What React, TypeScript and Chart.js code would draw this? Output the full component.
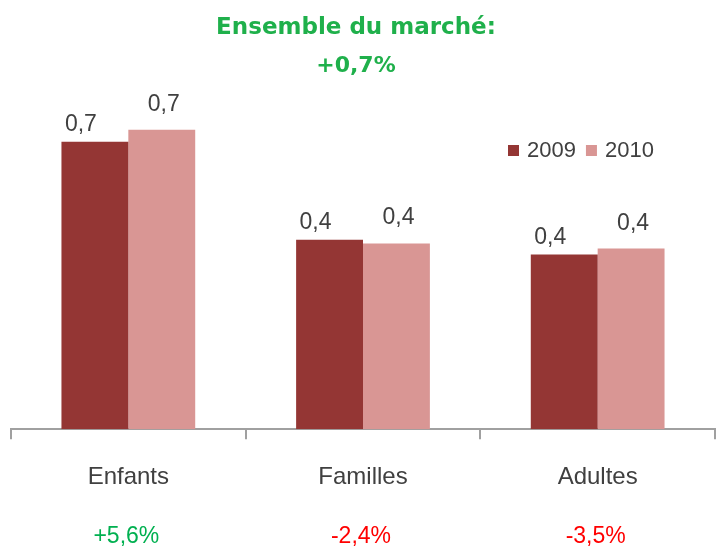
import React, { useEffect, useRef } from 'react';
import { Chart, registerables } from 'chart.js';

Chart.register(...registerables);

const categories = ['Enfants', 'Familles', 'Adultes'];
const seriesNames = ['2009', '2010'];
const values2009 = [0.678, 0.447, 0.412];
const values2010 = [0.706, 0.438, 0.426];
const changes = ['+5,6%', '-2,4%', '-3,5%'];
const changeColors = ['#00b050', '#ff0000', '#ff0000'];
const titleLines = ['Ensemble du marché:', '+0,7%'];
const yMax = 0.8;

const COLORS = ['#943634', '#d99694'];
const LABEL_DX = [-14, 2];
const LABEL_DY = [-11, -19];
const FONT = '"Liberation Sans", Arial, sans-serif';

const overlayPlugin = {
  id: 'overlay',
  afterDraw(chart: any) {
    const ctx = chart.ctx as CanvasRenderingContext2D;
    ctx.save();
    // data labels
    chart.data.datasets.forEach((ds: any, di: number) => {
      const meta = chart.getDatasetMeta(di);
      meta.data.forEach((bar: any, i: number) => {
        const v = ds.data[i] as number;
        const txt = v.toFixed(1).replace('.', ',');
        ctx.font = `23px ${FONT}`;
        ctx.fillStyle = '#404040';
        ctx.textAlign = 'center';
        ctx.textBaseline = 'alphabetic';
        ctx.fillText(txt, bar.x + LABEL_DX[di], bar.y + LABEL_DY[di]);
      });
    });
    // title
    ctx.font = `bold 23px "DejaVu Sans", Verdana, sans-serif`;
    ctx.fillStyle = '#1fb04b';
    ctx.textAlign = 'center';
    ctx.textBaseline = 'alphabetic';
    ctx.fillText(titleLines[0], 356, 34);
    ctx.font = `bold 22px "DejaVu Sans", Verdana, sans-serif`;
    ctx.fillText(titleLines[1], 356, 72);
    // legend
    ctx.font = `22px ${FONT}`;
    let x = 508;
    chart.data.datasets.forEach((ds: any) => {
      ctx.fillStyle = ds.backgroundColor;
      ctx.fillRect(x, 145, 11, 11);
      x += 19;
      ctx.fillStyle = '#404040';
      ctx.textAlign = 'left';
      ctx.fillText(ds.label, x, 157);
      x += ctx.measureText(ds.label).width + 10;
    });
    // changes under categories
    const xs = chart.scales.x;
    ctx.font = `23px ${FONT}`;
    ctx.textAlign = 'center';
    changes.forEach((c, i) => {
      ctx.fillStyle = changeColors[i];
      ctx.fillText(c, xs.getPixelForValue(i) - 2, 543);
    });
    ctx.restore();
  },
};

export default function App() {
  const ref = useRef<HTMLCanvasElement | null>(null);
  useEffect(() => {
    if (!ref.current) return;
    const chart = new Chart(ref.current, {
      type: 'bar',
      data: {
        labels: categories,
        datasets: [
          { label: seriesNames[0], data: values2009, backgroundColor: COLORS[0], borderWidth: 0 },
          { label: seriesNames[1], data: values2010, backgroundColor: COLORS[1], borderWidth: 0 },
        ],
      },
      options: {
        animation: false,
        responsive: false,
        devicePixelRatio: 1,
        layout: { padding: { top: 90, left: 11, right: 1, bottom: 31 } },
        datasets: { bar: { categoryPercentage: 0.57, barPercentage: 1 } },
        plugins: {
          legend: { display: false },
          title: { display: false },
          tooltip: { enabled: false },
        },
        scales: {
          x: {
            grid: {
              offset: true,
              drawOnChartArea: false,
              drawTicks: true,
              tickLength: 10,
              color: '#a0a0a0',
              lineWidth: 2,
            },
            border: { display: true, color: '#a0a0a0', width: 2 },
            ticks: {
              color: '#404040',
              font: { size: 24, family: FONT },
              padding: 24,
              maxRotation: 0,
            },
          },
          y: { display: false, min: 0, max: yMax },
        },
      },
      plugins: [overlayPlugin],
    });
    return () => chart.destroy();
  }, []);
  return (
    <div style={{ position: 'fixed', left: 0, top: 0, width: 716, height: 547, background: '#fff' }}>
      <canvas ref={ref} width={716} height={547} />
    </div>
  );
}
